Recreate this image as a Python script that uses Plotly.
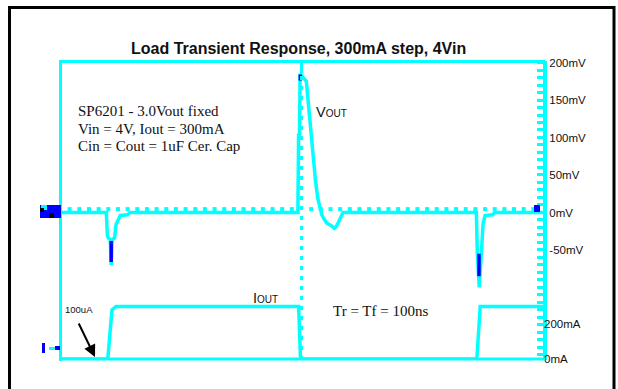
import plotly.graph_objects as go

# ---------------- data (time in divisions, Vout in mV, Iout in mA) ----------------
t_vout = [0.0, 0.96, 0.98, 1.00, 1.04, 1.06, 1.08, 1.13, 1.16, 1.21, 1.25, 1.40, 1.45,
          4.925, 4.94, 4.96, 4.97, 5.03, 5.10, 5.14, 5.19, 5.24, 5.29, 5.34, 5.39,
          5.42, 5.46, 5.52, 5.60, 5.68, 5.72, 5.77, 5.82, 5.86,
          8.62, 8.64, 8.68, 8.72, 8.76, 8.80, 8.95, 9.0, 10.0]
vout_mV = [0, 0, -30, -34, -36, -70, -36, -34, -16, -8, -4, -3, 0,
           0, 103, 103, 185, 180, 175, 147, 110, 72, 42, 18, 3,
           -3, -8, -14, -17, -21, -19, -12, -3, 0,
           0, -54, -100, -54, -15, -4, -3, 0, 0]

# darker (blue) fragments of the scanned trace
dark_t = [1.06, 1.06, None, 8.675, 8.675, None, 4.975, 4.975]
dark_mV = [-38, -66, None, -55, -85, None, 176, 184]

t_iout = [0.0, 0.99, 1.035, 1.077, 1.16, 4.94, 4.96, 4.98, 8.63, 8.66, 8.70, 10.0]
iout_mA = [0, 0, 150, 280, 300, 300, 150, 0, 0, 150, 300, 300]

mv_ticks = [200, 150, 100, 50, 0, -50]
mv_labels = ["200mV", "150mV", "100mV", "50mV", "0mV", "-50mV"]
ma_ticks = [0, 200]
ma_labels = ["0mA", "200mA"]

CYAN = "#00FFFF"
BLUE = "#0000FF"

# plot area in pixels
L, R, T, B = 60, 543, 61, 360
W, H = R - L, B - T
MV_RANGE = [-196.7, 202]


def px(x):
    return (x - L) / W


def py(y):
    return (B - y) / H


fig = go.Figure()

# graticule minor ticks on the centre horizontal line
grat_t = [i * 0.2 for i in range(1, 50) if i != 25]
fig.add_trace(go.Scatter(x=grat_t, y=[4.5] * len(grat_t), mode="markers",
                         marker=dict(symbol="square", size=4, color=CYAN, line=dict(width=0)),
                         hoverinfo="skip", showlegend=False))

fig.add_trace(go.Scatter(x=t_vout, y=vout_mV, mode="lines",
                         line=dict(color=CYAN, width=3.5), showlegend=False))
fig.add_trace(go.Scatter(x=dark_t, y=dark_mV, mode="lines",
                         line=dict(color=BLUE, width=3.5), showlegend=False))
fig.add_trace(go.Scatter(x=t_iout, y=iout_mA, mode="lines", yaxis="y2",
                         line=dict(color=CYAN, width=3.5), showlegend=False))
# invisible trace so the graticule tick axis is drawn
fig.add_trace(go.Scatter(x=[0], y=[0], yaxis="y3", mode="markers",
                         marker=dict(opacity=0), hoverinfo="skip", showlegend=False))

shapes = []
# outer black frame
shapes.append(dict(type="rect", xref="paper", yref="paper",
                   x0=px(9.5), x1=px(614), y0=py(400), y1=py(7.5),
                   line=dict(color="black", width=3)))
# cyan plot frame (left, top, bottom)
shapes.append(dict(type="line", xref="paper", yref="paper", x0=px(60.5), x1=px(60.5),
                   y0=py(361), y1=py(61.5), line=dict(color=CYAN, width=3)))
shapes.append(dict(type="line", xref="paper", yref="paper", x0=px(59), x1=px(545),
                   y0=py(61.5), y1=py(61.5), line=dict(color=CYAN, width=3)))
shapes.append(dict(type="line", xref="paper", yref="paper", x0=px(59), x1=px(545),
                   y0=py(359), y1=py(359), line=dict(color=CYAN, width=3)))
# dashed centre vertical graticule
shapes.append(dict(type="line", xref="x", yref="paper", x0=5.0, x1=5.0,
                   y0=0, y1=1, line=dict(color=CYAN, width=3, dash="4px,6px")))
shapes.append(dict(type="line", xref="x", yref="paper", x0=5.0, x1=5.0,
                   y0=py(73), y1=1, line=dict(color=CYAN, width=3)))
# channel markers at the left
shapes.append(dict(type="rect", xref="paper", yref="paper", x0=px(40), x1=px(61),
                   y0=py(218), y1=py(205), fillcolor=BLUE, line=dict(width=0)))
shapes.append(dict(type="rect", xref="paper", yref="paper", x0=px(41), x1=px(47),
                   y0=py(210), y1=py(205), fillcolor=CYAN, line=dict(width=0)))
shapes.append(dict(type="rect", xref="paper", yref="paper", x0=px(40), x1=px(44),
                   y0=py(212), y1=py(208), fillcolor="black", line=dict(width=0)))
shapes.append(dict(type="rect", xref="paper", yref="paper", x0=px(49), x1=px(54),
                   y0=py(218), y1=py(213), fillcolor="black", line=dict(width=0)))
shapes.append(dict(type="rect", xref="paper", yref="paper", x0=px(42), x1=px(45),
                   y0=py(353), y1=py(343), fillcolor=BLUE, line=dict(width=0)))
shapes.append(dict(type="rect", xref="paper", yref="paper", x0=px(49), x1=px(55),
                   y0=py(350), y1=py(347), fillcolor=CYAN, line=dict(width=0)))
shapes.append(dict(type="rect", xref="paper", yref="paper", x0=px(55), x1=px(60),
                   y0=py(350), y1=py(346), fillcolor=BLUE, line=dict(width=0)))
# trigger marker at the right
shapes.append(dict(type="rect", xref="paper", yref="paper", x0=px(534), x1=px(540),
                   y0=py(212), y1=py(205), fillcolor=BLUE, line=dict(width=0)))

SERIF = "Liberation Serif, Times New Roman, serif"
SANS = "Liberation Sans, Arial, sans-serif"
ann = []


def text(x, y, s, size, family, anchor="left"):
    ann.append(dict(x=px(x), y=py(y), xref="paper", yref="paper", text=s, showarrow=False,
                    xanchor=anchor, yanchor="middle",
                    font=dict(size=size, family=family, color="#111111")))


text(298, 48, "<b>Load Transient Response, 300mA step, 4Vin</b>", 16, SANS, "center")
text(76, 111, "SP6201 - 3.0Vout fixed", 15, SERIF)
text(76, 128.5, "Vin = 4V, Iout = 300mA", 15, SERIF)
text(76, 146, "Cin = Cout = 1uF Cer. Cap", 15, SERIF)
text(314, 112, "V<span style='font-size:10px'>OUT</span>", 14.5, SANS)
text(251, 298, "I<span style='font-size:10px'>OUT</span>", 14.5, SANS)
text(331, 311, "Tr = Tf = 100ns", 15, SERIF)
text(63, 309, "100uA", 9.5, SANS)

ann.append(dict(x=px(95), y=py(357), xref="paper", yref="paper", ax=-17, ay=-35,
                axref="pixel", ayref="pixel", text="", showarrow=True,
                arrowhead=2, arrowsize=1.2, arrowwidth=2, arrowcolor="black"))

fig.update_layout(
    width=618, height=389,
    margin=dict(l=L, r=618 - R, t=T, b=389 - B),
    paper_bgcolor="white", plot_bgcolor="white",
    showlegend=False,
    shapes=shapes, annotations=ann,
    xaxis=dict(range=[0, 10], visible=False, showgrid=False, zeroline=False),
    yaxis=dict(range=MV_RANGE, side="right", showgrid=False, zeroline=False,
               showline=True, linecolor=CYAN, linewidth=4,
               tickmode="array", tickvals=mv_ticks, ticktext=mv_labels,
               ticks="", ticklabelstandoff=0,
               tickfont=dict(size=11.5, family=SANS, color="#111111")),
    yaxis2=dict(range=[-5.7, 1702], overlaying="y", side="right", showgrid=False,
                zeroline=False, showline=False, ticklabelstandoff=0,
                tickmode="array", tickvals=ma_ticks, ticktext=ma_labels,
                ticks="", tickfont=dict(size=11.5, family=SANS, color="#111111")),
    yaxis3=dict(range=MV_RANGE, overlaying="y", side="right", showgrid=False,
                zeroline=False, showline=False, showticklabels=False,
                tickmode="linear", tick0=0, dtick=10,
                ticks="inside", ticklen=6, tickwidth=3, tickcolor=CYAN),
)

fig.write_html("out.html")
